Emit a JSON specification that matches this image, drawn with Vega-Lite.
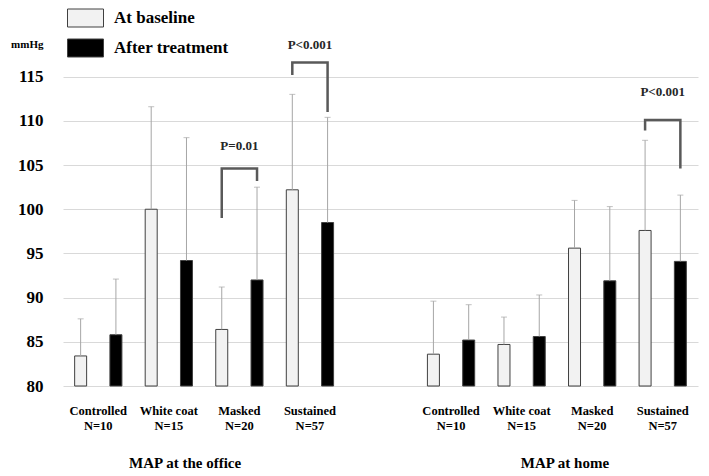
{
  "$schema": "https://vega.github.io/schema/vega-lite/v6.json",
  "width": 635,
  "height": 327,
  "autosize": {"type": "none"},
  "padding": {"left": 63, "top": 59, "right": 11, "bottom": 90},
  "background": "white",
  "config": {"view": {"stroke": null}, "font": "Liberation Serif"},
  "datasets": {
    "bars": [
      {"cat": "Office|Controlled|N=10", "series": "At baseline", "val": 83.4, "upper": 87.6},
      {"cat": "Office|Controlled|N=10", "series": "After treatment", "val": 85.8, "upper": 92.1},
      {"cat": "Office|White coat|N=15", "series": "At baseline", "val": 100.0, "upper": 111.6},
      {"cat": "Office|White coat|N=15", "series": "After treatment", "val": 94.2, "upper": 108.1},
      {"cat": "Office|Masked|N=20", "series": "At baseline", "val": 86.4, "upper": 91.2},
      {"cat": "Office|Masked|N=20", "series": "After treatment", "val": 92.0, "upper": 102.5},
      {"cat": "Office|Sustained|N=57", "series": "At baseline", "val": 102.2, "upper": 113.0},
      {"cat": "Office|Sustained|N=57", "series": "After treatment", "val": 98.5, "upper": 110.4},
      {"cat": "Home|Controlled|N=10", "series": "At baseline", "val": 83.6, "upper": 89.6},
      {"cat": "Home|Controlled|N=10", "series": "After treatment", "val": 85.2, "upper": 89.2},
      {"cat": "Home|White coat|N=15", "series": "At baseline", "val": 84.7, "upper": 87.8},
      {"cat": "Home|White coat|N=15", "series": "After treatment", "val": 85.6, "upper": 90.3},
      {"cat": "Home|Masked|N=20", "series": "At baseline", "val": 95.6, "upper": 101.0},
      {"cat": "Home|Masked|N=20", "series": "After treatment", "val": 91.9, "upper": 100.3},
      {"cat": "Home|Sustained|N=57", "series": "At baseline", "val": 97.6, "upper": 107.8},
      {"cat": "Home|Sustained|N=57", "series": "After treatment", "val": 94.1, "upper": 101.6}
    ],
    "brackets": [
      {"id": 1, "ord": 1, "cat": "Office|Masked|N=20", "series": "At baseline", "val": 99.0},
      {"id": 1, "ord": 2, "cat": "Office|Masked|N=20", "series": "At baseline", "val": 104.6},
      {"id": 1, "ord": 3, "cat": "Office|Masked|N=20", "series": "After treatment", "val": 104.6},
      {"id": 1, "ord": 4, "cat": "Office|Masked|N=20", "series": "After treatment", "val": 103.2},
      {"id": 2, "ord": 1, "cat": "Office|Sustained|N=57", "series": "At baseline", "val": 115.2},
      {"id": 2, "ord": 2, "cat": "Office|Sustained|N=57", "series": "At baseline", "val": 116.6},
      {"id": 2, "ord": 3, "cat": "Office|Sustained|N=57", "series": "After treatment", "val": 116.6},
      {"id": 2, "ord": 4, "cat": "Office|Sustained|N=57", "series": "After treatment", "val": 111.0},
      {"id": 3, "ord": 1, "cat": "Home|Sustained|N=57", "series": "At baseline", "val": 108.9},
      {"id": 3, "ord": 2, "cat": "Home|Sustained|N=57", "series": "At baseline", "val": 110.1},
      {"id": 3, "ord": 3, "cat": "Home|Sustained|N=57", "series": "After treatment", "val": 110.1},
      {"id": 3, "ord": 4, "cat": "Home|Sustained|N=57", "series": "After treatment", "val": 104.6}
    ],
    "pvals": [
      {"cat": "Office|Masked|N=20", "label": "P=0.01", "val": 107.1},
      {"cat": "Office|Sustained|N=57", "label": "P<0.001", "val": 118.6},
      {"cat": "Home|Sustained|N=57", "label": "P<0.001", "val": 113.3}
    ]
  },
  "layer": [
    {
      "data": {"name": "bars"},
      "mark": {"type": "bar", "stroke": "#404040", "strokeWidth": 1},
      "encoding": {
        "x": {
          "field": "cat", "type": "nominal", "sort": null, "title": null,
          "scale": {
            "domain": ["Office|Controlled|N=10", "Office|White coat|N=15", "Office|Masked|N=20", "Office|Sustained|N=57", "gap", "Home|Controlled|N=10", "Home|White coat|N=15", "Home|Masked|N=20", "Home|Sustained|N=57"],
            "paddingInner": 0, "paddingOuter": 0
          },
          "axis": {
            "domain": false, "ticks": false, "grid": false,
            "labelAngle": 0,
            "labelExpr": "datum.value == 'gap' ? '' : slice(split(datum.value, '|'), 1)",
            "labelFont": "Liberation Serif", "labelFontWeight": "bold", "labelFontSize": 12.5,
            "labelColor": "#000000", "labelLineHeight": 15, "labelPadding": 18
          }
        },
        "xOffset": {
          "field": "series", "type": "nominal", "sort": null,
          "scale": {"domain": ["At baseline", "After treatment"], "paddingInner": 0.66, "paddingOuter": 0.33}
        },
        "y": {
          "field": "val", "type": "quantitative", "title": "mmHg",
          "scale": {"domain": [80, 117], "zero": false, "nice": false},
          "axis": {
            "values": [80, 85, 90, 95, 100, 105, 110, 115],
            "grid": true, "gridColor": "#d9d9d9", "gridWidth": 1,
            "domain": false, "ticks": false,
            "labelFont": "Liberation Serif", "labelFontWeight": "bold", "labelFontSize": 17,
            "labelColor": "#000000", "labelPadding": 20,
            "titleAngle": 0, "titleAlign": "right", "titleBaseline": "middle",
            "titleX": -20, "titleY": -15, "titleFont": "Liberation Serif",
            "titleFontSize": 11, "titleFontWeight": "bold", "titleColor": "#000000"
          }
        },
        "y2": {"datum": 80},
        "color": {
          "field": "series", "type": "nominal",
          "scale": {"domain": ["At baseline", "After treatment"], "range": ["#f2f2f2", "#000000"]},
          "legend": {
            "orient": "none", "legendX": 4, "legendY": -59.5, "title": null,
            "direction": "vertical", "padding": 0,
            "symbolType": "M-1,-0.5H1V0.5H-1Z", "symbolSize": 1296,
            "symbolStrokeColor": "#404040", "symbolStrokeWidth": 1,
            "labelFont": "Liberation Serif", "labelFontSize": 17, "labelFontWeight": "bold",
            "labelColor": "#000000", "rowPadding": 0, "labelOffset": 10
          }
        }
      }
    },
    {
      "data": {"name": "bars"},
      "mark": {"type": "rule", "color": "#a6a6a6", "strokeWidth": 1},
      "encoding": {
        "x": {"field": "cat", "type": "nominal", "title": null},
        "xOffset": {"field": "series", "type": "nominal"},
        "y": {"field": "val", "type": "quantitative", "title": "mmHg"},
        "y2": {"field": "upper"}
      }
    },
    {
      "data": {"name": "bars"},
      "mark": {"type": "tick", "color": "#a6a6a6", "size": 6, "thickness": 1, "orient": "horizontal"},
      "encoding": {
        "x": {"field": "cat", "type": "nominal", "title": null},
        "xOffset": {"field": "series", "type": "nominal"},
        "y": {"field": "upper", "type": "quantitative", "title": "mmHg"}
      }
    },
    {
      "data": {"name": "brackets"},
      "mark": {"type": "line", "color": "#595959", "strokeWidth": 2.5, "strokeJoin": "miter"},
      "encoding": {
        "x": {"field": "cat", "type": "nominal", "title": null},
        "xOffset": {"field": "series", "type": "nominal"},
        "y": {"field": "val", "type": "quantitative", "title": "mmHg"},
        "detail": {"field": "id", "type": "nominal"},
        "order": {"field": "ord", "type": "quantitative"}
      }
    },
    {
      "data": {"name": "pvals"},
      "mark": {"type": "text", "font": "Liberation Serif", "fontWeight": "bold", "fontSize": 13, "color": "#262626", "baseline": "middle"},
      "encoding": {
        "x": {"field": "cat", "type": "nominal", "title": null},
        "y": {"field": "val", "type": "quantitative", "title": "mmHg"},
        "text": {"field": "label"}
      }
    },
    {
      "data": {"values": [{"cat": "Office|White coat|N=15", "title": "MAP at the office"}]},
      "mark": {"type": "text", "font": "Liberation Serif", "fontWeight": "bold", "fontSize": 15, "color": "#000000", "baseline": "middle", "dx": -19, "dy": 77},
      "encoding": {
        "x": {"field": "cat", "type": "nominal", "bandPosition": 1, "title": null},
        "y": {"datum": 80, "type": "quantitative", "title": "mmHg"},
        "text": {"field": "title"}
      }
    },
    {
      "data": {"values": [{"cat": "Home|White coat|N=15", "title": "MAP at home"}]},
      "mark": {"type": "text", "font": "Liberation Serif", "fontWeight": "bold", "fontSize": 15, "color": "#000000", "baseline": "middle", "dx": 8, "dy": 77},
      "encoding": {
        "x": {"field": "cat", "type": "nominal", "bandPosition": 1, "title": null},
        "y": {"datum": 80, "type": "quantitative", "title": "mmHg"},
        "text": {"field": "title"}
      }
    }
  ]
}
